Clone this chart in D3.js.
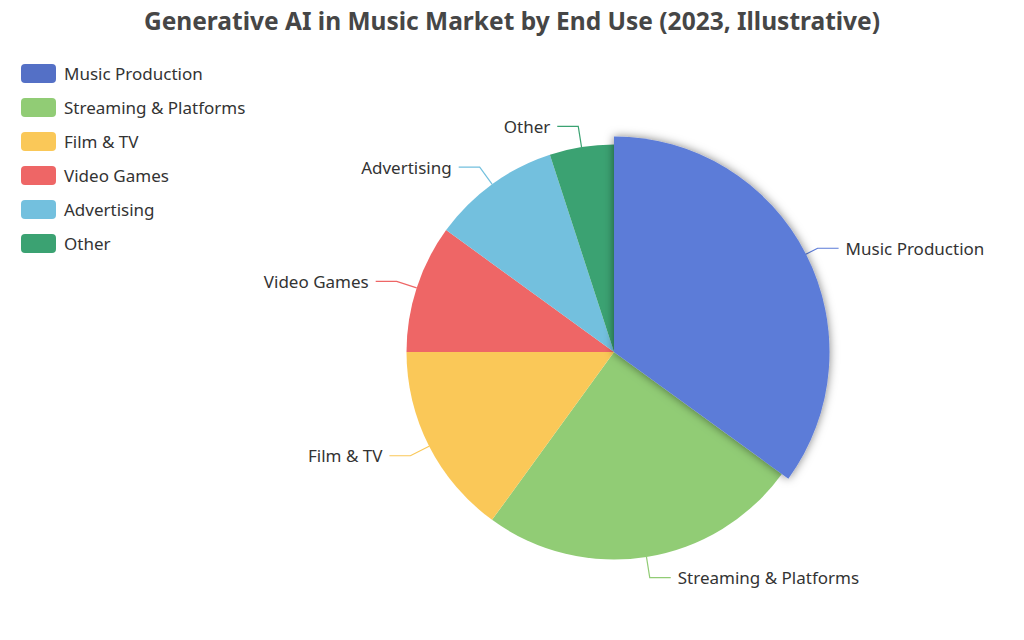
<!DOCTYPE html>
<html>
<head>
<meta charset="utf-8">
<script src="https://cdn.jsdelivr.net/npm/d3@7"></script>
<style>
  html, body { margin: 0; padding: 0; background: #fff; }
  svg { display: block; font-family: "Noto Sans", "DejaVu Sans", sans-serif; }
</style>
</head>
<body>
<svg id="chart" width="1024" height="640"></svg>
<script>
const titleText = "Generative AI in Music Market by End Use (2023, Illustrative)";
const categories = ["Music Production", "Streaming & Platforms", "Film & TV", "Video Games", "Advertising", "Other"];
const values = [35, 25, 15, 10, 10, 5];
const colors = ["#5470c6", "#91cc75", "#fac858", "#ee6666", "#73c0de", "#3ba272"];
const highlighted = "Music Production";
const highlightColor = "#5b7bd8";

const W = 1024, H = 640;
const cx = 614, cy = 352;
const R = 207.5, Rhi = 215.5;
const len1 = 21, len2 = 21, gap = 7;

const svg = d3.select("#chart");

const defs = svg.append("defs");
const f = defs.append("filter").attr("id", "shadow")
  .attr("x", "-20%").attr("y", "-20%").attr("width", "140%").attr("height", "140%");
f.append("feDropShadow").attr("dx", 0).attr("dy", 0).attr("stdDeviation", 5)
  .attr("flood-color", "#000").attr("flood-opacity", 0.5);

// Title
svg.append("text")
  .attr("x", W / 2).attr("y", 20)
  .attr("text-anchor", "middle").attr("dominant-baseline", "central")
  .attr("font-size", 24.5).attr("font-weight", "bold").attr("fill", "#464646")
  .text(titleText);

const color = d3.scaleOrdinal().domain(categories).range(colors);
const data = categories.map((c, i) => ({ name: c, value: values[i] }));

const pie = d3.pie().sort(null).value(d => d.value);
const arcs = pie(data);

const arcN = d3.arc().innerRadius(0).outerRadius(R);
const arcH = d3.arc().innerRadius(0).outerRadius(Rhi);

const g = svg.append("g").attr("transform", `translate(${cx},${cy})`);

// label lines & labels (drawn under slices)
const lg = g.append("g");
arcs.forEach(a => {
  const mid = (a.startAngle + a.endAngle) / 2;
  const sx = Math.sin(mid), sy = -Math.cos(mid);
  const p1 = [sx * R, sy * R];
  const p2 = [sx * (R + len1), sy * (R + len1)];
  const right = sx >= 0;
  const p3 = [p2[0] + (right ? len2 : -len2), p2[1]];
  lg.append("polyline")
    .attr("points", [p1, p2, p3].map(p => p.join(",")).join(" "))
    .attr("fill", "none")
    .attr("stroke", a.data.name === highlighted ? highlightColor : color(a.data.name))
    .attr("stroke-width", 1.2);
  lg.append("text")
    .attr("x", p3[0] + (right ? gap : -gap)).attr("y", p3[1])
    .attr("text-anchor", right ? "start" : "end")
    .attr("dominant-baseline", "central")
    .attr("font-size", 17).attr("fill", "#333")
    .text(a.data.name);
});

const sg = g.append("g");
arcs.filter(a => a.data.name !== highlighted).forEach(a => {
  sg.append("path").attr("d", arcN(a)).attr("fill", color(a.data.name));
});
arcs.filter(a => a.data.name === highlighted).forEach(a => {
  sg.append("path").attr("d", arcH(a)).attr("fill", highlightColor)
    .attr("filter", "url(#shadow)");
});

// Legend
const legend = svg.append("g");
const ly = d3.scalePoint().domain(categories).range([73.5, 73.5 + 34 * (categories.length - 1)]);
categories.forEach(c => {
  const y = ly(c);
  legend.append("rect")
    .attr("x", 21).attr("y", y - 9.5).attr("width", 35).attr("height", 19)
    .attr("rx", 4).attr("fill", color(c));
  legend.append("text")
    .attr("x", 64).attr("y", y)
    .attr("dominant-baseline", "central")
    .attr("font-size", 17).attr("fill", "#333")
    .text(c);
});
</script>
</body>
</html>
